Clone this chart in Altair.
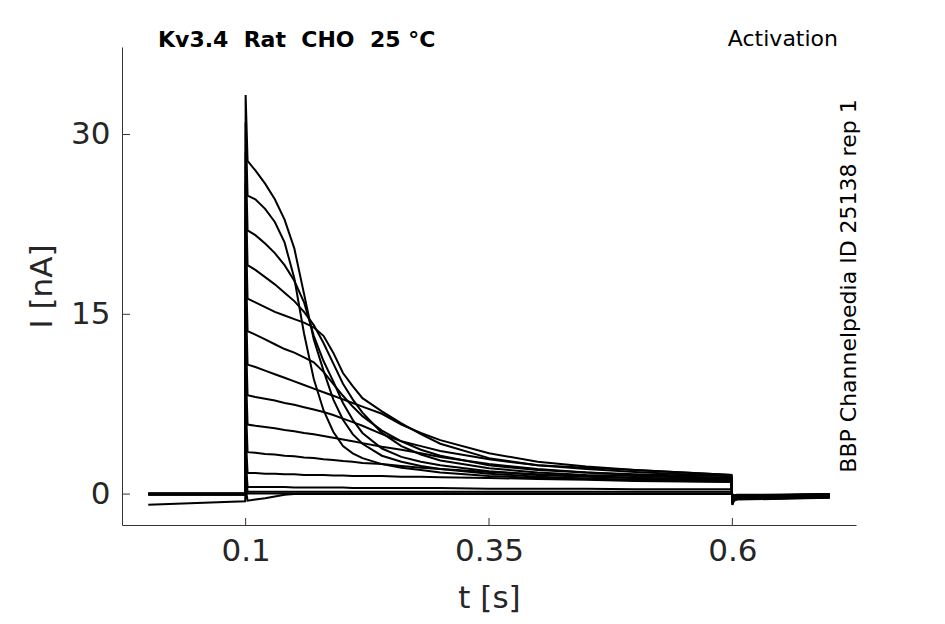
import altair as alt
import pandas as pd

# time grid (s)
t_pre = [0.0, 0.05, 0.0995]
t_spike = [0.1]
t_step = [0.102, 0.11, 0.12, 0.13, 0.14, 0.15, 0.16, 0.17, 0.18, 0.19, 0.2,
          0.21, 0.22, 0.24, 0.26, 0.28, 0.3, 0.35, 0.4, 0.45, 0.5, 0.55, 0.599]
t_post = [0.6, 0.6015, 0.605, 0.65, 0.7]

# current traces (nA)
pre_vals = {
    "L1": [0.0, 0.0, 0.0], "L2": [0.0, 0.0, 0.0], "L3": [0.0, 0.0, 0.0],
    "L4": [0.0, 0.0, 0.0], "L5": [0.0, 0.0, 0.0], "L6": [0.05, 0.05, 0.05],
    "L7": [0.05, 0.05, 0.05], "L8": [0.0, 0.0, 0.0], "L9": [-0.05, -0.05, -0.05],
    "L10": [0.0, 0.0, 0.0], "L11": [0.05, 0.05, 0.05], "L12": [0.0, 0.0, 0.0],
    "L13": [-0.05, -0.05, -0.05], "L14": [0.0, 0.0, 0.0], "L15": [-0.9, -0.75, -0.6],
}
spike_vals = {
    "L1": 33.3, "L2": 31.0, "L3": 28.5, "L4": 26.0, "L5": 23.0, "L6": 20.0,
    "L7": 17.0, "L8": 14.0, "L9": 11.0, "L10": 8.0, "L11": 5.0, "L12": 3.0,
    "L13": 2.0, "L14": 1.0, "L15": 0.5,
}
step_vals = {
    "L1": [27.8, 27.0, 25.9, 24.6, 22.9, 20.5, 16.7, 12.9, 10.3, 7.9, 6.2, 5.0, 4.2, 3.2, 2.7, 2.35, 2.1, 1.7, 1.45, 1.3, 1.2, 1.15, 1.1],
    "L2": [24.9, 24.6, 23.8, 22.7, 21.0, 18.0, 13.4, 9.6, 7.0, 5.2, 4.0, 3.4, 3.0, 2.5, 2.2, 2.0, 1.8, 1.5, 1.35, 1.25, 1.15, 1.1, 1.05],
    "L3": [22.0, 21.6, 20.9, 20.1, 19.1, 17.8, 16.0, 13.2, 11.1, 9.4, 7.6, 6.2, 5.1, 3.8, 3.1, 2.7, 2.4, 1.9, 1.6, 1.45, 1.35, 1.3, 1.25],
    "L4": [19.1, 18.7, 18.1, 17.5, 16.8, 16.1, 15.2, 14.1, 12.6, 10.9, 9.2, 7.9, 6.8, 5.1, 4.0, 3.3, 2.8, 2.15, 1.8, 1.6, 1.5, 1.4, 1.35],
    "L5": [16.3, 16.0, 15.6, 15.2, 14.9, 14.6, 14.3, 13.9, 13.2, 11.8, 10.1, 9.0, 8.0, 6.9, 5.9, 5.0, 4.2, 3.0, 2.4, 2.2, 2.0, 1.8, 1.6],
    "L6": [13.6, 13.3, 12.9, 12.5, 12.1, 11.8, 11.4, 11.0, 10.2, 9.2, 8.2, 7.3, 6.5, 5.3, 4.4, 3.7, 3.2, 2.4, 2.0, 1.8, 1.65, 1.55, 1.5],
    "L7": [10.8, 10.6, 10.3, 10.0, 9.7, 9.4, 9.1, 8.8, 8.5, 8.2, 7.9, 7.6, 7.3, 6.7, 5.8, 5.1, 4.5, 3.4, 2.7, 2.3, 2.0, 1.8, 1.6],
    "L8": [8.25, 8.1, 7.95, 7.8, 7.6, 7.45, 7.25, 7.05, 6.85, 6.6, 6.3, 6.0, 5.7, 5.0, 4.4, 4.0, 3.6, 2.9, 2.4, 2.1, 1.85, 1.65, 1.5],
    "L9": [5.8, 5.7, 5.6, 5.5, 5.35, 5.25, 5.1, 5.0, 4.85, 4.7, 4.55, 4.4, 4.25, 3.95, 3.7, 3.4, 3.1, 2.5, 2.1, 1.8, 1.6, 1.45, 1.35],
    "L10": [3.5, 3.45, 3.35, 3.3, 3.2, 3.15, 3.05, 3.0, 2.9, 2.85, 2.75, 2.7, 2.6, 2.5, 2.35, 2.2, 2.1, 1.85, 1.65, 1.5, 1.35, 1.25, 1.15],
    "L11": [1.75, 1.75, 1.7, 1.7, 1.65, 1.65, 1.6, 1.6, 1.6, 1.55, 1.55, 1.5, 1.5, 1.5, 1.45, 1.45, 1.4, 1.35, 1.25, 1.2, 1.1, 1.05, 1.0],
    "L12": [0.6, 0.6, 0.6, 0.6, 0.6, 0.55, 0.55, 0.55, 0.55, 0.55, 0.55, 0.5, 0.5, 0.5, 0.5, 0.5, 0.5, 0.45, 0.45, 0.45, 0.4, 0.4, 0.4],
    "L13": [0.2, 0.2, 0.2, 0.2, 0.2, 0.2, 0.2, 0.2, 0.2, 0.2, 0.2, 0.2, 0.2, 0.2, 0.2, 0.2, 0.2, 0.2, 0.2, 0.2, 0.2, 0.2, 0.2],
    "L14": [0.05, 0.05, 0.05, 0.05, 0.05, 0.05, 0.05, 0.05, 0.05, 0.05, 0.05, 0.05, 0.05, 0.05, 0.05, 0.05, 0.05, 0.05, 0.05, 0.05, 0.05, 0.05, 0.05],
    "L15": [-0.55, -0.45, -0.35, -0.2, -0.05, 0.0, 0.0, 0.0, 0.0, 0.0, 0.0, 0.0, 0.0, 0.0, 0.0, 0.0, 0.0, 0.0, 0.0, 0.0, 0.0, 0.0, 0.0],
}
post_vals = {
    "L1": [-0.9, -0.55, -0.45, -0.4, -0.3], "L2": [-0.85, -0.5, -0.4, -0.35, -0.3],
    "L3": [-0.85, -0.5, -0.4, -0.35, -0.25], "L4": [-0.8, -0.5, -0.4, -0.35, -0.25],
    "L5": [-0.8, -0.45, -0.35, -0.3, -0.2], "L6": [-0.75, -0.45, -0.35, -0.3, -0.2],
    "L7": [-0.7, -0.4, -0.3, -0.25, -0.15], "L8": [-0.65, -0.4, -0.3, -0.25, -0.15],
    "L9": [-0.6, -0.35, -0.25, -0.2, -0.1], "L10": [-0.5, -0.3, -0.2, -0.15, -0.1],
    "L11": [-0.4, -0.25, -0.2, -0.15, -0.05], "L12": [-0.3, -0.2, -0.15, -0.1, -0.05],
    "L13": [-0.2, -0.15, -0.1, -0.1, 0.0], "L14": [-0.15, -0.1, -0.1, -0.05, 0.0],
    "L15": [-0.1, -0.1, -0.05, -0.05, 0.0],
}

y_ticks = [0, 15, 30]
x_ticks = [0.1, 0.35, 0.6]
title_left = "Kv3.4\u00a0\u00a0Rat\u00a0\u00a0CHO\u00a0\u00a025\u00a0°C"
title_right = "Activation"
side_label = "BBP Channelpedia ID 25138 rep 1"

rows = []
times = t_pre + t_spike + t_step + t_post
for name in step_vals:
    vals = pre_vals[name] + [spike_vals[name]] + step_vals[name] + post_vals[name]
    for i, (tt, vv) in enumerate(zip(times, vals)):
        rows.append({"trace": name, "t": tt, "I": vv, "order": i})
df = pd.DataFrame(rows)

W, H = 734, 478
FONT = "DejaVu Sans"
x_scale = alt.Scale(domain=[-0.027, 0.727], nice=False, zero=False)
y_scale = alt.Scale(domain=[-2.58, 37.3], nice=False, zero=False)

x_axis = alt.Axis(
    values=x_ticks, title="t [s]", ticks=False, grid=False, labelFontSize=31,
    titleFontSize=31, labelPadding=11, titlePadding=17, labelColor="#262626",
    titleColor="#262626", titleFontWeight="normal", domainColor="#333333",
    labelFont=FONT, titleFont=FONT, format=".2~f", labelFlush=False)
y_axis = alt.Axis(
    values=y_ticks, title="I [nA]", ticks=False, grid=False, labelFontSize=31,
    titleFontSize=31, labelPadding=12, titlePadding=12, labelColor="#262626",
    titleColor="#262626", titleFontWeight="normal", domainColor="#333333",
    labelFont=FONT, titleFont=FONT, labelFlush=False)

lines = alt.Chart(df).mark_line(color="black", strokeWidth=2, clip=False).encode(
    x=alt.X("t:Q", scale=x_scale, axis=x_axis),
    y=alt.Y("I:Q", scale=y_scale, axis=y_axis),
    detail="trace:N",
    order="order:Q",
)

ytick_rules = alt.Chart(pd.DataFrame({"I": y_ticks})).mark_rule(
    color="#333333", strokeWidth=1).encode(
    y=alt.Y("I:Q", scale=y_scale, axis=y_axis),
    x=alt.value(0), x2=alt.value(8))

xtick_rules = alt.Chart(pd.DataFrame({"t": x_ticks})).mark_rule(
    color="#333333", strokeWidth=1).encode(
    x=alt.X("t:Q", scale=x_scale, axis=x_axis),
    y=alt.value(H), y2=alt.value(H - 7))

txt_left = alt.Chart(pd.DataFrame({"label": [title_left]})).mark_text(
    font=FONT, fontSize=22, fontWeight="bold", align="left", baseline="alphabetic",
    color="black").encode(x=alt.value(36), y=alt.value(0), text="label:N")

txt_right = alt.Chart(pd.DataFrame({"label": [title_right]})).mark_text(
    font=FONT, fontSize=22, align="right", baseline="alphabetic",
    color="black").encode(x=alt.value(716), y=alt.value(-1), text="label:N")

txt_side = alt.Chart(pd.DataFrame({"label": [side_label]})).mark_text(
    font=FONT, fontSize=22, align="center", baseline="middle", angle=270,
    color="black").encode(x=alt.value(727), y=alt.value(239), text="label:N")

chart = alt.layer(lines, ytick_rules, xtick_rules, txt_left, txt_right, txt_side).properties(
    width=W, height=H,
    padding={"left": 114, "top": 39, "right": 80, "bottom": 92},
    autosize=alt.AutoSizeParams(type="none"),
    background="white",
).configure_view(stroke=None, strokeWidth=0)

chart.save("out.html", embed_options={"renderer": "svg", "actions": False})
